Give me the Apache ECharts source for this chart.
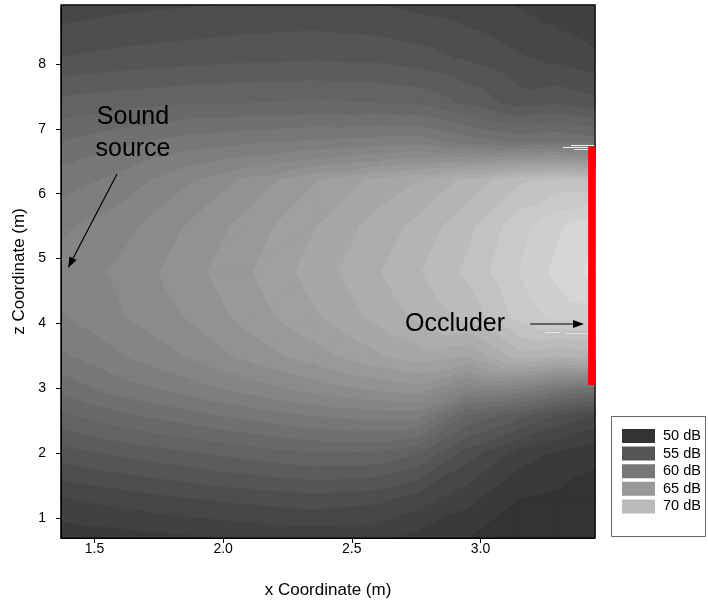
<!DOCTYPE html>
<html>
<head>
<meta charset="utf-8">
<script src="https://cdn.jsdelivr.net/npm/echarts@6/dist/echarts.min.js"></script>
<style>
  html, body { margin: 0; padding: 0; background: #fff; }
  #chart { width: 708px; height: 602px; }
</style>
</head>
<body>
<div id="chart"></div>
<script>
// Sampling positions of the sound-level field (metres)
const xCoords = [1.37, 1.6, 1.85, 2.1, 2.35, 2.6, 2.76, 2.95, 3.15, 3.3, 3.445];
const zCoords = [0.69, 1.3, 2.0, 2.6, 3.0, 3.5, 4.1, 4.8, 5.5, 6.2, 6.5, 6.8, 7.4, 8.1, 8.91];

// Sound pressure level (dB), one row per z coordinate, bottom to top
const levelsZ0_69 = [51.3, 51.5, 51.8, 52.1, 52.3, 52.2, 51.6, 51.0, 50.6, 50.5, 50.4];
const levelsZ1_3  = [52.9, 53.4, 53.9, 54.3, 54.6, 54.3, 53.5, 52.3, 51.0, 50.8, 50.6];
const levelsZ2_0  = [55.5, 56.2, 56.8, 57.4, 57.9, 57.8, 57.0, 54.5, 52.5, 51.8, 51.2];
const levelsZ2_6  = [57.8, 58.8, 59.6, 60.4, 61.1, 61.5, 61.5, 58.0, 56.5, 55.0, 54.0];
const levelsZ3_0  = [59.3, 60.5, 61.4, 62.4, 63.4, 64.2, 64.6, 62.5, 62.0, 60.5, 59.5];
const levelsZ3_5  = [60.8, 61.9, 63.0, 64.3, 65.5, 66.8, 67.5, 67.0, 69.5, 69.0, 69.5];
const levelsZ4_1  = [61.9, 62.9, 64.0, 65.4, 66.8, 68.3, 69.2, 70.3, 72.3, 73.3, 73.5];
const levelsZ4_8  = [62.4, 63.2, 64.5, 65.9, 67.4, 68.9, 69.9, 71.2, 73.0, 74.3, 75.3];
const levelsZ5_5  = [61.8, 62.6, 64.0, 65.4, 66.9, 68.4, 69.3, 70.7, 72.6, 73.8, 74.8];
const levelsZ6_2  = [60.5, 61.3, 62.8, 64.3, 65.9, 67.3, 68.0, 69.3, 70.8, 71.3, 71.3];
const levelsZ6_5  = [59.8, 60.6, 61.6, 62.4, 63.2, 64.0, 64.5, 64.8, 65.2, 65.5, 65.0];
const levelsZ6_8  = [59.0, 59.7, 60.4, 60.8, 61.1, 61.4, 61.5, 60.5, 59.8, 60.0, 59.5];
const levelsZ7_4  = [57.3, 57.6, 57.9, 58.0, 58.1, 58.0, 57.8, 56.8, 55.5, 55.8, 55.3];
const levelsZ8_1  = [55.0, 55.3, 55.5, 55.7, 55.8, 55.7, 55.4, 54.8, 54.1, 53.7, 53.2];
const levelsZ8_91 = [53.4, 53.7, 53.9, 54.1, 54.2, 54.0, 53.7, 53.4, 52.9, 52.4, 52.0];

const levelRows = [levelsZ0_69, levelsZ1_3, levelsZ2_0, levelsZ2_6, levelsZ3_0, levelsZ3_5,
  levelsZ4_1, levelsZ4_8, levelsZ5_5, levelsZ6_2, levelsZ6_5, levelsZ6_8, levelsZ7_4,
  levelsZ8_1, levelsZ8_91];

// Axis tick values
const xTickValues = [1.5, 2.0, 2.5, 3.0];
const zTickValues = [1, 2, 3, 4, 5, 6, 7, 8];

// Legend entries (dB)
const legendLevels = [50, 55, 60, 65, 70];

// Occluder: x position and vertical extent (m)
const occluderX = [3.432, 3.432];
const occluderZ = [3.05, 6.73];

const contourStep = 1; // dB per filled band

function bandColor(level) {
  const g = Math.max(0, Math.min(255, Math.round(51 + (level - 50) * 6.8)));
  return 'rgb(' + g + ',' + g + ',' + g + ')';
}

// Keep the part of a polygon on one side of an iso-level (linear field)
function clipByLevel(poly, lvl, keepAbove) {
  const out = [];
  for (let i = 0; i < poly.length; i++) {
    const a = poly[i], b = poly[(i + 1) % poly.length];
    const ina = keepAbove ? a[2] >= lvl : a[2] <= lvl;
    const inb = keepAbove ? b[2] >= lvl : b[2] <= lvl;
    if (ina) out.push(a);
    if (ina !== inb) {
      const t = (lvl - a[2]) / (b[2] - a[2]);
      out.push([a[0] + t * (b[0] - a[0]), a[1] + t * (b[1] - a[1]), lvl]);
    }
  }
  return out;
}

// One item per grid cell
const cellData = [];
for (let r = 0; r < zCoords.length - 1; r++) {
  for (let c = 0; c < xCoords.length - 1; c++) {
    cellData.push([xCoords[c], zCoords[r], c, r]);
  }
}

function renderCell(params, api) {
  const c = api.value(2), r = api.value(3);
  const pt = (ci, ri) => [xCoords[ci], zCoords[ri], levelRows[ri][ci]];
  const p00 = pt(c, r), p10 = pt(c + 1, r), p11 = pt(c + 1, r + 1), p01 = pt(c, r + 1);
  const tris = [[p00, p10, p11], [p00, p11, p01]];
  const children = [];
  tris.forEach(function (tri) {
    const vs = tri.map(p => p[2]);
    const lo = Math.floor(Math.min.apply(null, vs) / contourStep) * contourStep;
    const hi = Math.max.apply(null, vs);
    for (let L = lo; L <= hi; L += contourStep) {
      let poly = clipByLevel(tri, L, true);
      if (poly.length < 3) continue;
      poly = clipByLevel(poly, L + contourStep, false);
      if (poly.length < 3) continue;
      const pts = poly.map(p => api.coord([p[0], p[1]]));
      const col = bandColor(L);
      children.push({
        type: 'polygon',
        shape: { points: pts },
        style: { fill: col, stroke: col, lineWidth: 1.5, lineJoin: 'round' }
      });
    }
  });
  return { type: 'group', children: children };
}

const FONT = '"Liberation Sans", Arial, sans-serif';

function arrow(x1, y1, x2, y2) {
  const dx = x2 - x1, dy = y2 - y1, len = Math.sqrt(dx * dx + dy * dy);
  const ux = dx / len, uy = dy / len, head = 11, half = 4;
  const bx = x2 - ux * head, by = y2 - uy * head;
  return [
    { type: 'line', z: 60, shape: { x1: x1, y1: y1, x2: bx, y2: by },
      style: { stroke: '#000', lineWidth: 1.2 } },
    { type: 'polygon', z: 60, shape: { points: [[x2, y2],
        [bx - uy * half, by + ux * half], [bx + uy * half, by - ux * half]] },
      style: { fill: '#000' } }
  ];
}

// Thin light streaks along the occluder edges
function streak(x1, x2, y, opacity) {
  return { type: 'line', z: 25, shape: { x1: x1, y1: y, x2: x2, y2: y },
    style: { stroke: '#fff', lineWidth: 1, opacity: opacity } };
}

const legendItems = [];
legendLevels.forEach(function (lv, i) {
  const y = 429 + i * 17.6;
  legendItems.push({ type: 'rect', z: 60, shape: { x: 622, y: y, width: 33, height: 14 },
    style: { fill: bandColor(lv) } });
  legendItems.push({ type: 'text', z: 60, style: { text: lv + ' dB', x: 663, y: y + 7,
    textVerticalAlign: 'middle', font: '14.5px ' + FONT, fill: '#000' } });
});

const chart = echarts.init(document.getElementById('chart'), null, { renderer: 'canvas' });
chart.setOption({
  animation: false,
  backgroundColor: '#fff',
  grid: { left: 61, right: 113, top: 5, bottom: 64, show: true, z: 10,
    outerBoundsMode: 'none', containLabel: false,
    borderColor: '#000', borderWidth: 1, backgroundColor: 'transparent' },
  xAxis: {
    type: 'value', min: 1.37, max: 3.445,
    name: 'x Coordinate (m)', nameLocation: 'middle', nameGap: 44,
    nameTextStyle: { fontSize: 17, color: '#000', fontFamily: FONT },
    axisLine: { show: true, onZero: false, lineStyle: { color: '#000', width: 1 } },
    axisTick: { show: true, length: 5, inside: false, customValues: xTickValues,
      lineStyle: { color: '#000' } },
    axisLabel: { customValues: xTickValues, formatter: v => v.toFixed(1),
      fontSize: 14, color: '#000', fontFamily: FONT, margin: 4 },
    splitLine: { show: false }, z: 20
  },
  yAxis: {
    type: 'value', min: 0.69, max: 8.91,
    name: 'z Coordinate (m)', nameLocation: 'middle', nameGap: 32, nameRotate: 90,
    nameTextStyle: { fontSize: 17, color: '#000', fontFamily: FONT },
    axisLine: { show: true, onZero: false, lineStyle: { color: '#000', width: 1 } },
    axisTick: { show: true, length: 5, inside: false, customValues: zTickValues,
      lineStyle: { color: '#000' } },
    axisLabel: { customValues: zTickValues, formatter: v => String(v),
      fontSize: 14, color: '#000', fontFamily: FONT, margin: 15 },
    splitLine: { show: false }, z: 20
  },
  series: [
    {
      type: 'custom', name: 'Sound level', silent: true, z: 2,
      renderItem: renderCell,
      encode: { x: 0, y: 1 },
      data: cellData
    },
    {
      type: 'line', name: 'Occluder', silent: true, z: 30,
      symbol: 'none',
      lineStyle: { color: '#ff0000', width: 7, cap: 'butt' },
      data: occluderZ.map((z, i) => [occluderX[i], z])
    }
  ],
  graphic: [
    { type: 'text', z: 60, style: { text: 'Sound\nsource', x: 133, y: 133,
      textAlign: 'center', textVerticalAlign: 'middle', font: '25px ' + FONT,
      lineHeight: 32, fill: '#000' } },
    { type: 'text', z: 60, style: { text: 'Occluder', x: 455, y: 324,
      textAlign: 'center', textVerticalAlign: 'middle', font: '25px ' + FONT, fill: '#000' } }
  ].concat(arrow(117, 174, 68, 268), arrow(530, 324, 584, 324), [
    streak(571, 594, 145.5, 0.9), streak(563, 592, 147.5, 0.9), streak(574, 594, 149.5, 0.8),
    streak(545, 560, 332.5, 0.6), streak(566, 590, 333.5, 0.5),
    { type: 'rect', z: 59, shape: { x: 611.5, y: 416.5, width: 94, height: 120 },
      style: { fill: '#fff', stroke: '#666', lineWidth: 1 } }
  ], legendItems)
});
</script>
</body>
</html>
